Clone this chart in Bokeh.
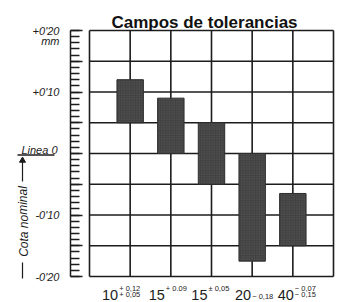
from bokeh.plotting import figure
from bokeh.models import LinearAxis, FixedTicker, Range1d
from bokeh.embed import file_html
from bokeh.resources import INLINE
from bokeh.core.properties import value

# ---------------- data ----------------
title = "Campos de tolerancias"
positions = [1, 2, 3, 4, 5]
nominal = ["10", "15", "15", "20", "40"]
upper_dev = [0.12, 0.09, 0.05, 0.0, -0.065]
lower_dev = [0.05, 0.0, -0.05, -0.175, -0.15]
upper_txt = ["+ 0,12", "+ 0.09", "\u00b1 0,05", "", "\u2212 0,07"]
lower_txt = ["+ 0,05", "", "", "\u2212 0,18", "\u2212 0,15"]
y_tick_values = [0.2, 0.1, -0.1, -0.2]
y_tick_labels = ["+0'20", "+0'10", "-0'10", "-0'20"]
unit_label = "mm"
zero_label = "Linea 0"
axis_title = "Cota nominal"

# ---------------- layout ----------------
W, H = 350, 302
ruler_px = 70
box_left, box_right = 89, 333
box_top, box_bottom = 30, 276
n_cols = 6
y_lo, y_hi = -0.2, 0.2
step = 0.05

sx = (box_right - box_left) / n_cols
sy = (box_bottom - box_top) / (y_hi - y_lo)


def X(px):
    return (px - box_left) / sx


def Y(py):
    return y_hi - (py - box_top) / sy


INK = "#1c1c1c"
FONT = "Liberation Sans"

p = figure(width=W, height=H, x_range=Range1d(X(0), X(W)), y_range=Range1d(Y(H), Y(0)),
           output_backend="svg", toolbar_location=None,
           x_axis_location=None, y_axis_location=None, min_border=0)
p.outline_line_color = None
p.background_fill_color = "white"
p.border_fill_color = "white"
for g in p.grid:
    g.visible = False

# grid box
grid_x = list(range(n_cols + 1))
n_rows = int(round((y_hi - y_lo) / step))
grid_y = [round(y_lo + k * step, 2) for k in range(n_rows + 1)]
p.segment(x0=grid_x, x1=grid_x, y0=[y_lo] * len(grid_x), y1=[y_hi] * len(grid_x),
          line_color=INK, line_width=1.6)
p.segment(x0=[0] * len(grid_y), x1=[n_cols] * len(grid_y), y0=grid_y, y1=grid_y,
          line_color=INK, line_width=1.6)

# tolerance bars
p.vbar(x=positions, width=0.65, top=upper_dev, bottom=lower_dev,
       fill_color="#424242", line_color="#2e2e2e", line_width=1,
       hatch_pattern=".", hatch_color="#707070", hatch_scale=2.5, hatch_weight=1, hatch_alpha=0.6)

# left ruler axis (fixed at the ruler position)
ax = LinearAxis(bounds=(y_lo, y_hi), fixed_location=X(ruler_px))
majors = [round(y_lo + k * step, 2) for k in range(n_rows + 1)]
minors = [round(y_lo + k * 0.01, 2) for k in range(41)]
ax.ticker = FixedTicker(ticks=majors, minor_ticks=minors)
overrides = {t: "" for t in majors}
for v, lab in zip(y_tick_values, y_tick_labels):
    overrides[v] = lab
ax.major_label_overrides = overrides
ax.major_tick_in = 12
ax.major_tick_out = 0
ax.minor_tick_in = 9
ax.minor_tick_out = 0
ax.axis_line_color = INK
ax.axis_line_width = 1.5
ax.major_tick_line_color = INK
ax.minor_tick_line_color = INK
ax.major_tick_line_width = 1.4
ax.minor_tick_line_width = 1.3
ax.major_label_standoff = 11
ax.major_label_text_font = FONT
ax.major_label_text_font_style = "italic"
ax.major_label_text_font_size = "11px"
ax.major_label_text_color = INK
p.add_layout(ax, "left")

lab_style = dict(text_font=value(FONT), text_font_style="italic", text_color=INK)
p.text(x=[X(59)], y=[Y(40)], text=[unit_label], text_align="right",
       text_baseline="alphabetic", text_font_size="11px", **lab_style)
p.text(x=[X(57)], y=[Y(149.5)], text=[zero_label], text_align="right",
       text_baseline="alphabetic", text_font_size="11px", **lab_style)
p.text(x=[X(23)], y=[Y(221)], text=[axis_title], angle=1.5708, text_align="center",
       text_baseline="middle", text_font_size="12px", **lab_style)
# underline of "Linea 0" and dimension line of the nominal size
p.segment(x0=[X(17)], x1=[X(54)], y0=[Y(154.5)], y1=[Y(154.5)], line_color=INK, line_width=1.3)
p.segment(x0=[X(22), X(22)], x1=[X(22), X(22)], y0=[Y(159), Y(262)], y1=[Y(181), Y(278)],
          line_color=INK, line_width=1.2)
p.scatter(x=[X(22)], y=[Y(160)], marker="triangle", size=6, fill_color=INK, line_color=INK)

# title
p.text(x=[X(204)], y=[Y(22)], text=[title], text_align="center", text_baseline="alphabetic",
       text_font=value(FONT), text_font_style="bold", text_font_size="17px", text_color="#111111")

# x labels (nominal size with tolerances)
label_dx = [-12, -6, -4, -1, 1]
num_x = [pos + d / sx for pos, d in zip(positions, label_dx)]
suf_x = [pos + (d + 1) / sx for pos, d in zip(positions, label_dx)]
p.text(x=num_x, y=[Y(294)] * len(num_x), text=nominal, text_align="right",
       text_baseline="alphabetic", text_font=value(FONT), text_font_size="14.5px", text_color=INK)

top_x, top_y, top_t, bot_x, bot_y, bot_t = [], [], [], [], [], []
for xs, u, l in zip(suf_x, upper_txt, lower_txt):
    if u and l:
        top_x.append(xs); top_y.append(Y(287.5)); top_t.append(u)
        bot_x.append(xs); bot_y.append(Y(294)); bot_t.append(l)
    elif u:
        top_x.append(xs); top_y.append(Y(287.5)); top_t.append(u)
    elif l:
        bot_x.append(xs); bot_y.append(Y(296)); bot_t.append(l)
p.text(x=top_x + bot_x, y=top_y + bot_y, text=top_t + bot_t, text_align="left",
       text_baseline="alphabetic", text_font=value(FONT), text_font_size="7.5px", text_color=INK)

open("out.html", "w").write(file_html(p, INLINE))
